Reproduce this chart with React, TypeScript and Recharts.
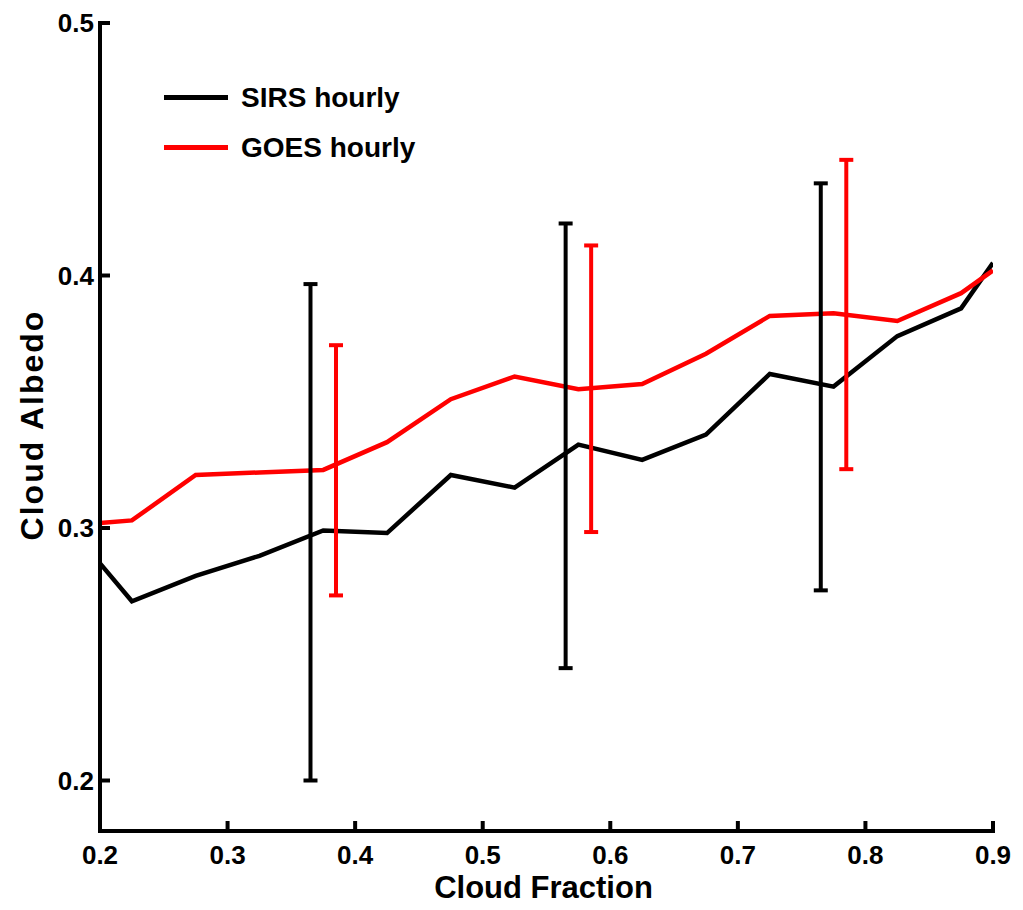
import {
  ComposedChart,
  Line,
  Scatter,
  ErrorBar,
  XAxis,
  YAxis,
  Legend,
} from "recharts";

// cloud fraction bins
const cloudFraction = [0.2, 0.225, 0.275, 0.325, 0.375, 0.425, 0.475, 0.525, 0.575, 0.625, 0.675, 0.725, 0.775, 0.825, 0.875, 0.9];
const sirsAlbedo = [0.286, 0.271, 0.281, 0.289, 0.299, 0.298, 0.321, 0.316, 0.333, 0.327, 0.337, 0.361, 0.356, 0.376, 0.387, 0.405];
const goesAlbedo = [0.302, 0.303, 0.321, 0.322, 0.323, 0.334, 0.351, 0.360, 0.355, 0.357, 0.369, 0.384, 0.385, 0.382, 0.393, 0.402];

// error bars (drawn slightly offset from the bins)
const sirsBarX = [0.365, 0.565, 0.765];
const sirsBarLow = [0.2, 0.2445, 0.2753];
const sirsBarHigh = [0.3966, 0.4206, 0.4365];
const goesBarX = [0.385, 0.585, 0.785];
const goesBarLow = [0.2733, 0.2984, 0.3233];
const goesBarHigh = [0.3724, 0.4119, 0.4458];

const xTicks = [0.2, 0.3, 0.4, 0.5, 0.6, 0.7, 0.8, 0.9];
const yTicks = [0.2, 0.3, 0.4, 0.5];

const legendItems = [
  { name: "SIRS hourly", color: "#000000" },
  { name: "GOES hourly", color: "#ff0000" },
];

const FONT = '"Liberation Sans", Arial, Helvetica, sans-serif';

const sirsData = cloudFraction.map((x, i) => ({ x, y: sirsAlbedo[i] }));
const goesData = cloudFraction.map((x, i) => ({ x, y: goesAlbedo[i] }));
const sirsBars = sirsBarX.map((x, i) => ({
  x,
  y: (sirsBarLow[i] + sirsBarHigh[i]) / 2,
  err: (sirsBarHigh[i] - sirsBarLow[i]) / 2,
}));
const goesBars = goesBarX.map((x, i) => ({
  x,
  y: (goesBarLow[i] + goesBarHigh[i]) / 2,
  err: (goesBarHigh[i] - goesBarLow[i]) / 2,
}));

const tickStyle = { fill: "#000", fontSize: 26, fontWeight: 700, fontFamily: FONT };
const axisLine = { stroke: "#000", strokeWidth: 4, strokeLinecap: "square" as const };
const tickLine = { stroke: "#000", strokeWidth: 4 };
const fmt = (v: number) => v.toFixed(1);

function LegendBox() {
  return (
    <div style={{ fontFamily: FONT, fontWeight: 700, fontSize: 28 }}>
      {legendItems.map((it) => (
        <div key={it.name} style={{ display: "flex", alignItems: "center", height: 50 }}>
          <div style={{ width: 64, height: 4.5, background: it.color, marginRight: 13 }} />
          <span style={{ color: "#000", whiteSpace: "nowrap" }}>{it.name}</span>
        </div>
      ))}
    </div>
  );
}

export default function App() {
  return (
    <div style={{ position: "absolute", left: 0, top: 0, background: "#fff" }}>
      <ComposedChart width={1023} height={910} margin={{ top: 23, right: 30, bottom: 0, left: 0 }}>
        <XAxis
          dataKey="x"
          type="number"
          domain={[0.2, 0.9]}
          ticks={xTicks}
          tickFormatter={fmt}
          height={79}
          axisLine={axisLine}
          tickLine={tickLine}
          tickSize={-10}
          tickMargin={25}
          tick={tickStyle}
          allowDataOverflow
          label={{
            value: "Cloud Fraction",
            position: "insideBottom",
            offset: 12,
            dx: -3,
            style: { fill: "#000", fontSize: 31, fontWeight: 700, fontFamily: FONT },
          }}
        />
        <XAxis
          xAxisId="top"
          orientation="top"
          dataKey="x"
          type="number"
          domain={[0.2, 0.9]}
          ticks={xTicks}
          tickFormatter={() => ""}
          height={0}
          axisLine={axisLine}
          tickLine={tickLine}
          tickSize={-10}
          allowDataOverflow
        />
        <YAxis
          type="number"
          domain={[0.18, 0.5]}
          ticks={yTicks}
          tickFormatter={fmt}
          width={100}
          axisLine={axisLine}
          tickLine={tickLine}
          tickSize={-10}
          tickMargin={16}
          tick={tickStyle}
          allowDataOverflow
          label={{
            value: "Cloud Albedo",
            angle: -90,
            position: "insideLeft",
            offset: 32,
            dy: -2,
            style: {
              fill: "#000",
              fontSize: 32,
              fontWeight: 700,
              fontFamily: FONT,
              textAnchor: "middle",
              letterSpacing: 2,
            },
          }}
        />
        <YAxis
          yAxisId="right"
          orientation="right"
          type="number"
          domain={[0.18, 0.5]}
          ticks={yTicks}
          tickFormatter={() => ""}
          width={0}
          axisLine={axisLine}
          tickLine={tickLine}
          tickSize={-10}
          allowDataOverflow
        />
        <Legend
          layout="vertical"
          align="center"
          verticalAlign="middle"
          wrapperStyle={{ left: 164, top: 72.5, width: "auto" }}
          content={() => <LegendBox />}
        />
        <Line
          data={sirsData}
          dataKey="y"
          name="SIRS hourly"
          stroke="#000000"
          strokeWidth={4.5}
          dot={false}
          activeDot={false}
          isAnimationActive={false}
        />
        <Line
          data={goesData}
          dataKey="y"
          name="GOES hourly"
          stroke="#ff0000"
          strokeWidth={4.5}
          dot={false}
          activeDot={false}
          isAnimationActive={false}
        />
        <Scatter data={sirsBars} dataKey="y" legendType="none" shape={() => <g />} isAnimationActive={false}>
          <ErrorBar dataKey="err" direction="y" width={7} stroke="#000000" strokeWidth={4} />
        </Scatter>
        <Scatter data={goesBars} dataKey="y" legendType="none" shape={() => <g />} isAnimationActive={false}>
          <ErrorBar dataKey="err" direction="y" width={7} stroke="#ff0000" strokeWidth={4} />
        </Scatter>
      </ComposedChart>
    </div>
  );
}
